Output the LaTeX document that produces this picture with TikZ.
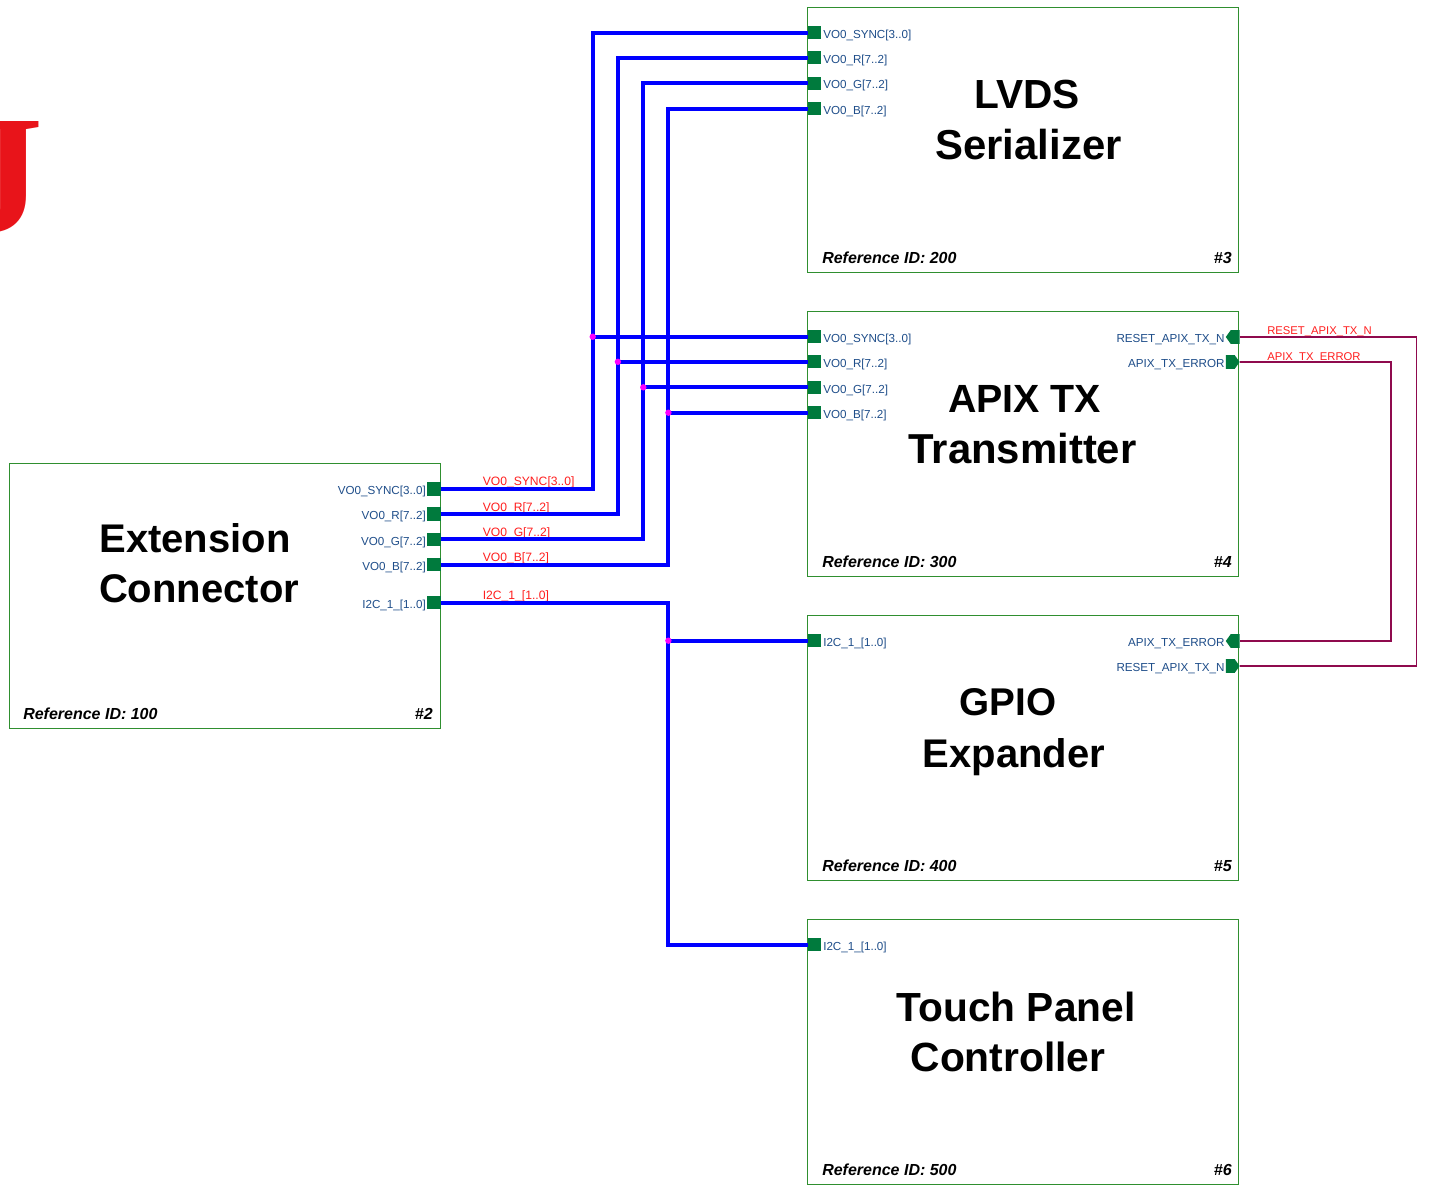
\documentclass[tikz,border=0pt]{standalone}
\usepackage{fontspec}
\setmainfont{Liberation Sans}
\newfontfamily\logofont{Liberation Serif}
\definecolor{blockgreen}{HTML}{2F8F2F}
\definecolor{portgreen}{HTML}{007A3D}
\definecolor{pinblue}{HTML}{1F4E8A}
\definecolor{netred}{HTML}{FF1F1F}
\definecolor{maroon}{HTML}{8F0A4E}
\definecolor{logored}{HTML}{E8141A}
\definecolor{busblue}{HTML}{0000FF}
\definecolor{junctionpink}{HTML}{FF00FF}
\newcommand{\titlesize}[1]{\fontsize{#1pt}{34pt}\selectfont}
\tikzset{
  block/.style={draw=blockgreen,line width=0.75pt,fill=white},
  titletext/.style={anchor=base,inner sep=0pt,font=\bfseries},
  reftext/.style={anchor=base west,inner sep=0pt,font=\bfseries\itshape\fontsize{12pt}{14pt}\selectfont},
  numtext/.style={anchor=base east,inner sep=0pt,font=\bfseries\itshape\fontsize{12pt}{14pt}\selectfont},
  pinr/.style={anchor=base west,inner sep=0pt,text=pinblue,font=\fontsize{8.73pt}{10pt}\selectfont},
  pinl/.style={anchor=base east,inner sep=0pt,text=pinblue,font=\fontsize{8.73pt}{10pt}\selectfont},
  netlabel/.style={anchor=base west,inner sep=0pt,text=netred,font=\fontsize{9.1pt}{10pt}\selectfont},
  netlabelsmall/.style={netlabel,font=\fontsize{8.45pt}{10pt}\selectfont},
  port/.style={fill=portgreen,inner sep=0pt,minimum width=10pt,minimum height=10pt},
  portghost/.style={inner sep=0pt,minimum width=10pt,minimum height=10pt},
  bus/.style={draw=busblue,line width=3pt,line join=miter},
  thin net/.style={draw=maroon,line width=0.8pt},
  junction/.style={fill=junctionpink,circle,inner sep=0pt,minimum size=4.8pt}
}
% pentagon ports: name, centre x, centre y
\newcommand{\portW}[3]{\node[portghost] (#1) at (#2,#3) {};
  \fill[portgreen] (#1.north east) -- ($(#1.north west)+(5,0)$) -- (#1.west) -- ($(#1.south west)+(5,0)$) -- (#1.south east) -- cycle;}
\newcommand{\portE}[3]{\node[portghost] (#1) at (#2,#3) {};
  \fill[portgreen] (#1.north west) -- ($(#1.north east)+(-5,0)$) -- (#1.east) -- ($(#1.south east)+(-5,0)$) -- (#1.south west) -- cycle;}
\usetikzlibrary{calc}
\begin{document}
\begin{tikzpicture}[x=0.75pt,y=-0.75pt]
\useasboundingbox (0,0) rectangle (1437,1193);
\fill[white] (0,0) rectangle (1437,1193);
\begin{scope}
\clip (0,0) rectangle (1437,1193);
\node[anchor=base east,inner sep=0pt,text=logored,font=\logofont\bfseries\fontsize{126pt}{130pt}\selectfont] (logo) at (43.5,231) {J};
\end{scope}

% blocks
\draw[block] (9.95,463.95) rectangle (440.95,728.95);
\draw[block] (807.95,7.95) rectangle (1238.95,272.95);
\draw[block] (807.95,311.95) rectangle (1238.95,576.95);
\draw[block] (807.95,615.95) rectangle (1238.95,880.95);
\draw[block] (807.95,919.95) rectangle (1238.95,1184.95);

% titles
\node[titletext] (t1a) at (195,552) {\titlesize{30.0}Extension};
\node[titletext] (t1b) at (199,602) {\titlesize{30.0}Connector};
\node[titletext] (t2a) at (1027,108) {\titlesize{30.5}LVDS};
\node[titletext] (t2b) at (1028.5,159) {\titlesize{31.4}Serializer};
\node[titletext] (t3a) at (1024.5,412) {\titlesize{29.5}APIX TX};
\node[titletext] (t3b) at (1022.5,463) {\titlesize{31.4}Transmitter};
\node[titletext] (t4a) at (1008,715.5) {\titlesize{29.0}GPIO};
\node[titletext] (t4b) at (1014,767) {\titlesize{30.0}Expander};
\node[titletext] (t5a) at (1016,1021) {\titlesize{30.5}Touch Panel};
\node[titletext] (t5b) at (1008,1071) {\titlesize{30.6}Controller};

% reference ids
\node[reftext] (r1) at (23,719) {Reference ID: 100};
\node[numtext] (n1) at (433,719) {\#2};
\node[reftext] (r2) at (822,263) {Reference ID: 200};
\node[numtext] (n2) at (1232,263) {\#3};
\node[reftext] (r3) at (822,567) {Reference ID: 300};
\node[numtext] (n3) at (1232,567) {\#4};
\node[reftext] (r4) at (822,871) {Reference ID: 400};
\node[numtext] (n4) at (1232,871) {\#5};
\node[reftext] (r5) at (822,1175) {Reference ID: 500};
\node[numtext] (n5) at (1232,1175) {\#6};

% left block ports
\node[port] (sS) at (434,489) {};
\node[port] (sR) at (434,514) {};
\node[port] (sG) at (434,539.3) {};
\node[port] (sB) at (434,564.8) {};
\node[port] (sI) at (434,602.8) {};
% LVDS ports
\node[port] (aS) at (814.5,32.7) {};
\node[port] (aR) at (814.5,57.8) {};
\node[port] (aG) at (814.5,83.3) {};
\node[port] (aB) at (814.5,108.7) {};
% APIX ports
\node[port] (bS) at (814.5,336.7) {};
\node[port] (bR) at (814.5,361.8) {};
\node[port] (bG) at (814.5,387.3) {};
\node[port] (bB) at (814.5,412.7) {};
\portW{bN}{1232.7}{337}
\portE{bE}{1232.7}{362}
% GPIO ports
\node[port] (cI) at (814.5,640.7) {};
\portW{cE}{1232.7}{641}
\portE{cN}{1232.7}{666}
% Touch ports
\node[port] (dI) at (814.5,944.7) {};

% pin labels
\node[pinl] (lS) at (426,494) {VO0\_SYNC[3..0]};
\node[pinl] (lR) at (426,519) {VO0\_R[7..2]};
\node[pinl] (lG) at (426,545) {VO0\_G[7..2]};
\node[pinl] (lB) at (426,570) {VO0\_B[7..2]};
\node[pinl] (lI) at (426,608) {I2C\_1\_[1..0]};
\node[pinr] (laS) at (823,38) {VO0\_SYNC[3..0]};
\node[pinr] (laR) at (823,63) {VO0\_R[7..2]};
\node[pinr] (laG) at (823,88) {VO0\_G[7..2]};
\node[pinr] (laB) at (823,114) {VO0\_B[7..2]};
\node[pinr] (lbS) at (823,342) {VO0\_SYNC[3..0]};
\node[pinr] (lbR) at (823,367) {VO0\_R[7..2]};
\node[pinr] (lbG) at (823,393) {VO0\_G[7..2]};
\node[pinr] (lbB) at (823,418) {VO0\_B[7..2]};
\node[pinl] (lbN) at (1224.8,342) {RESET\_APIX\_TX\_N};
\node[pinl] (lbE) at (1224.8,367) {APIX\_TX\_ERROR};
\node[pinr] (lcI) at (823,646) {I2C\_1\_[1..0]};
\node[pinl] (lcE) at (1224.8,646) {APIX\_TX\_ERROR};
\node[pinl] (lcN) at (1224.8,671) {RESET\_APIX\_TX\_N};
\node[pinr] (ldI) at (823,950) {I2C\_1\_[1..0]};

% net labels
\node[netlabel] (nS) at (482.5,485.5) {VO0\_SYNC[3..0]};
\node[netlabel] (nR) at (482.5,511) {VO0\_R[7..2]};
\node[netlabel] (nG) at (482.5,536.5) {VO0\_G[7..2]};
\node[netlabel] (nB) at (482.5,561.5) {VO0\_B[7..2]};
\node[netlabel] (nI) at (482.5,599.5) {I2C\_1\_[1..0]};
\node[netlabelsmall] (nN) at (1267,334) {RESET\_APIX\_TX\_N};
\node[netlabelsmall] (nE) at (1267,360) {APIX\_TX\_ERROR};

% junction coordinates
\coordinate (jS) at (592.7,336.7);
\coordinate (jR) at (617.9,361.8);
\coordinate (jG) at (643.3,387.3);
\coordinate (jB) at (668.4,412.7);
\coordinate (jI) at (668.4,640.7);
\coordinate (rN) at (1416.5,337);
\coordinate (rE) at (1391,362);

% buses
\draw[bus] (sS.east) -| (jS) |- (aS.west);
\draw[bus] (sR.east) -| (jR) |- (aR.west);
\draw[bus] (sG.east) -| (jG) |- (aG.west);
\draw[bus] (sB.east) -| (jB) |- (aB.west);
\draw[bus] (jS) -- (bS.west);
\draw[bus] (jR) -- (bR.west);
\draw[bus] (jG) -- (bG.west);
\draw[bus] (jB) -- (bB.west);
\draw[bus] (sI.east) -| (jI) |- (dI.west);
\draw[bus] (jI) -- (cI.west);

% thin nets
\draw[thin net] (bN.east) -| (rN) |- (cN.east);
\draw[thin net] (bE.east) -| (rE) |- (cE.east);

% junction dots
\node[junction] (dS) at (jS) {};
\node[junction] (dR) at (jR) {};
\node[junction] (dG) at (jG) {};
\node[junction] (dB) at (jB) {};
\node[junction] (dI2) at (jI) {};
\end{tikzpicture}
\end{document}
